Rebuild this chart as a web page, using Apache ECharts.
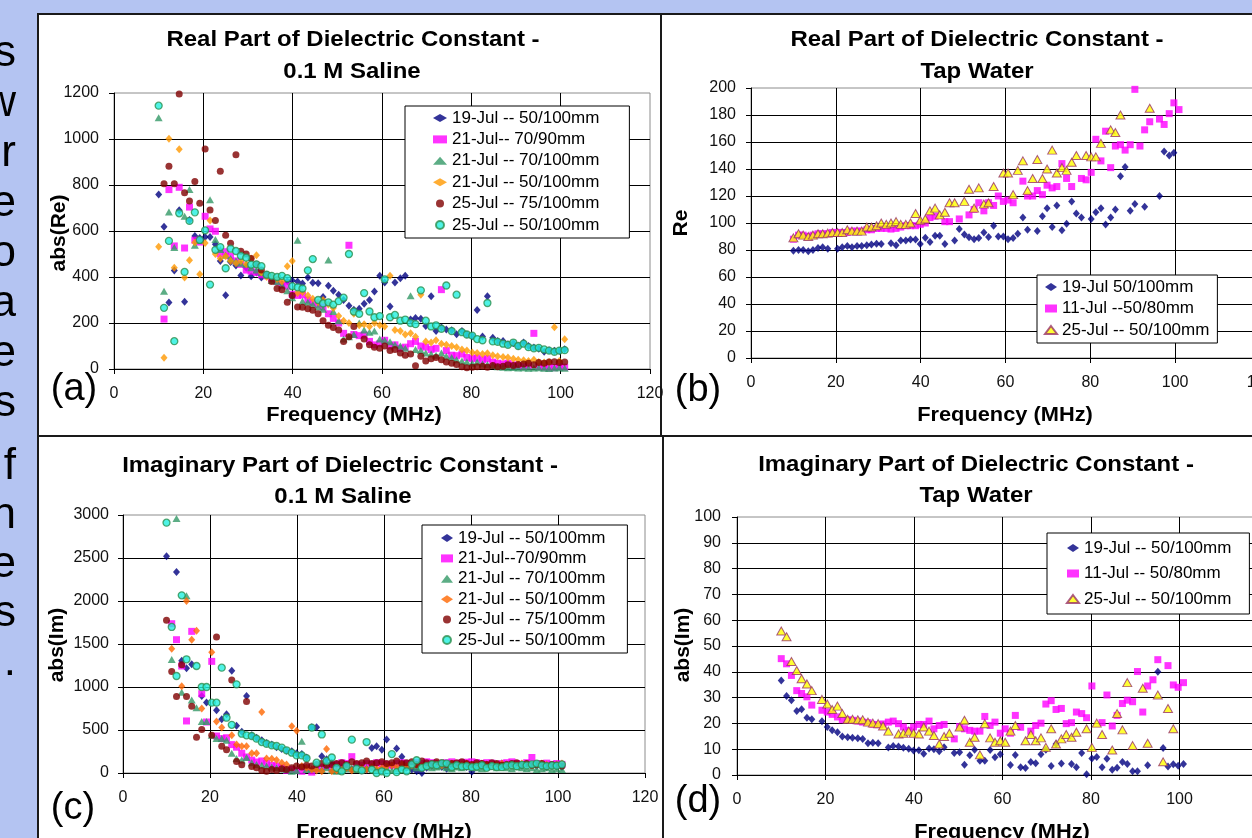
<!DOCTYPE html>
<html>
<head>
<meta charset="utf-8">
<script src="https://cdn.jsdelivr.net/npm/echarts@6/dist/echarts.min.js"></script>
<style>
  html, body { margin: 0; padding: 0; background: #b4c4f2; }
  #chart { width: 1252px; height: 838px; }
</style>
</head>
<body>
<div id="chart"></div>
<script>
// frequency grid (MHz) shared by every series
var freq = [
  10.0, 11.2, 12.3, 13.5, 14.6, 15.8, 16.9, 18.1, 19.2, 20.4,
  21.5, 22.7, 23.8, 25.0, 26.1, 27.3, 28.4, 29.6, 30.7, 31.9,
  33.0, 34.2, 35.3, 36.5, 37.6, 38.8, 39.9, 41.1, 42.2, 43.4,
  44.5, 45.7, 46.8, 48.0, 49.1, 50.3, 51.4, 52.6, 53.7, 54.9,
  56.0, 57.2, 58.3, 59.5, 60.6, 61.8, 62.9, 64.1, 65.2, 66.4,
  67.5, 68.7, 69.8, 71.0, 72.1, 73.3, 74.4, 75.6, 76.7, 77.9,
  79.0, 80.2, 81.3, 82.5, 83.6, 84.8, 85.9, 87.1, 88.2, 89.4,
  90.5, 91.7, 92.8, 94.0, 95.1, 96.3, 97.4, 98.6, 99.7, 100.9
];

var xTicks = [0, 20, 40, 60, 80, 100, 120];

// (a) real part, 0.1 M saline
var aLabels = ["19-Jul -- 50/100mm", "21-Jul-- 70/90mm", "21-Jul -- 70/100mm",
               "21-Jul -- 50/100mm", "25-Jul -- 75/100mm", "25-Jul -- 50/100mm"];
var aJul19 = [
  759, 618, 289, 428, 690, 292, 648, 578, 570, 574,
  574, 542, 470, 321, 465, 450, 406, 440, 403, 420,
  398, 410, 395, 388, 370, 382, 385, 380, 372, 398,
  375, 373, 313, 362, 340, 323, 300, 275, 258, 262,
  284, 300, 337, 405, 376, 272, 376, 395, 405, 215,
  222, 218, 187, 316, 165, 180, 172, 168, 151, 165,
  150, 144, 256, 141, 316, 136, 122, 122, 108, 112,
  100, 115, 100, 93, 88, 75, 82, 79, 79, 86];
var aJul21a = [
  null, 217, 780, 535, 790, 526, 704, 560, 552, 664,
  609, 599, 500, 510, 490, 470, 455, 430, 425, 420,
  410, 405, 395, 380, 365, 360, 325, 320, 322, 300,
  290, 282, 270, 240, 220, 200, 155, 538, 150, 145,
  148, 120, 105, 110, 125, 100, 105, 90, 95, 110,
  120, 100, 95, 85, 90, 345, 80, 60, 58, 65,
  50, 45, 48, 40, 45, 30, 25, 22, 25, 18,
  15, 12, 14, 155, 10, 8, 5, 6, 10, 8];
var aJul21b = [
  1092, 338, 683, 528, null, 664, 780, 538, 560, null,
  736, 563, 520, 495, 480, 470, 460, 455, 440, 430,
  420, 410, 385, 380, 365, 340, 310, 560, 295, 290,
  280, 270, 260, 474, 250, 210, 130, 140, 150, 200,
  170, 160, 165, 130, 125, 118, 105, 100, 90, 319,
  85, 80, 70, 65, 60, 70, 55, 50, 40, 35,
  30, 25, 30, 22, 20, 15, 10, 8, 5, 6,
  4, 5, 3, 4, 5, 3, 2, 4, 5, 3];
var aJul21c = [
  532, 49, 1001, 440, 955, 398, 473, 550, 412, 548,
  646, 500, 480, 490, 470, 460, 470, 455, 480, 495,
  420, 400, 405, 390, 380, 447, 470, 330, 335, 320,
  305, 290, 300, 280, 265, 230, 210, 200, 240, 190,
  195, 185, 200, 190, 185, 405, 170, 165, 150, 155,
  140, 323, 120, 115, 125, 110, 105, 100, 95, 85,
  80, 72, 70, 65, 68, 60, 55, 52, 50, 45,
  40, 38, 35, 40, 30, 28, 30, 182, 35, 129];
var aJul25a = [
  null, 805, 882, 805, 1196, 766, 730, 815, 721, 957,
  691, 646, 860, 581, 547, 931, 512, 500, 480, 455,
  430, 410, 380, 350, 345, 290, 320, 270, 268, 262,
  255, 240, 210, 190, 180, 170, 120, 140, 185, 100,
  130, 105, 95, 90, 100, 80, 85, 70, 60, 65,
  14, 55, 35, 45, 50, 40, 30, 25, 20, 10,
  5, 8, 10, 12, 8, 15, 10, 12, 18, 15,
  20, 22, 25, 18, 28, 25, 30, 32, 28, 30];
var aJul25b = [
  1145, 266, 557, 121, 677, 422, 644, 681, 561, 603,
  367, 518, 530, 438, 523, 513, 492, 484, 454, 455,
  447, 410, 405, 400, 405, 395, 360, 355, 350, 429,
  478, 300, 285, 290, 280, 295, 310, 500, 250, 240,
  330, 250, 225, 230, 390, 225, 235, 210, 215, 200,
  195, 342, 210, 185, 190, 175, 363, 165, 323, 160,
  150, 145, 130, 125, 287, 120, 118, 110, 105, 115,
  100, 110, 95, 90, 92, 85, 80, 75, 80, 82];

// (b) real part, tap water
var bLabels = ["19-Jul 50/100mm", "11-Jul --50/80mm", "25-Jul -- 50/100mm"];
var bJul19 = [
  79.5, 80, 80, 79, 80, 81.5, 82, 81, null, 81,
  82, 83, 82, 83, 83, 83.5, 84, 84.7, 84.4, null,
  85, 83.5, 87, 87, 87.7, 87.7, 84.4, 89, 86, 90.6,
  90.6, 84.4, null, 87, 95.6, 91.4, 89.4, 88, 88.9, 93,
  89.6, 98, 90, 90, 88, 88.9, 92, 104, 95, null,
  94, 105, 111, 97, 113, 94.6, 99.5, 116, 107, 104,
  null, 103, 108, 111, 98.8, 104, 110, 134.6, 141.5, 109,
  114, null, 112, null, null, 120, 153, 150, 152, null];
var bJul11 = [
  88, 91, 91, 90, 91, 92, 92, 92, 93, 93,
  93, 93, 94, 94, 94, 95, 95, 96, 96, 96,
  95.5, 96, 97, 98, 98, 98, 99, 100, 104, 105,
  null, 101, 101, null, 103, null, 106, 110, 115, 109,
  115, 113, 120, 116, 117, 115, null, 131, 120, 120,
  124, 121, 128, 126, 127, 144, 133, 127, null, 133,
  132, 137.5, 162, 146, 168, 141, 157, 158, 154, 158,
  199, 157, 169, 175, null, 177, 173, 181, 189, 184];
var bJul25 = [
  89, 92, 91, 90, 91, 92, 92, 92.5, 93, 93,
  93, 95, 94, 94, 94, 97, 97, 98, 100, 99,
  100, 101, 99, 99, 100, 107, 102, 103, 109, 111,
  106, 108, 115, 115, null, 116, 125, 111, 126, 114,
  115, 127, null, 137, 137, 121, 139, 146, 124, 133,
  147, 133, 140, 154, 137, 141, 139, 145, 150, null,
  150, 149, 149, 159, null, 169, 167, 180, null, null,
  null, null, null, 185, null, null, null, null, null, null];

// (c) imaginary part, 0.1 M saline
var cLabels = ["19-Jul -- 50/100mm", "21-Jul--70/90mm", "21-Jul -- 70/100mm",
               "21-Jul -- 50/100mm", "25-Jul -- 75/100mm", "25-Jul -- 50/100mm"];
var cJul19 = [
  2520, null, 2336, 1306, 1217, 1264, null, 895, 820, null,
  729, 624, 682, 1190, 550, 480, 895, 440, 410, 380,
  350, 330, 300, 280, 260, 252, 230, 221, 180, 531,
  531, 194, 160, 120, 100, 70, 60, 40, 50, 30,
  40, 290, 310, 270, 390, 80, 285, 190, 60, 40,
  20, 0, 60, 80, 90, 70, 50, 80, 90, 100,
  70, 15, 80, 90, 100, 85, 90, 110, 100, 95,
  90, 85, 100, 90, 80, 85, 70, 80, 75, 70];
var cJul21a = [
  null, 1736, 1550, 1244, 605, 1647, null, 922, 593, 1298,
  430, 400, 410, 330, 300, 230, 186, 150, 128, 140,
  110, 90, 80, 60, 31, 40, 30, 20, 60, 10,
  50, 70, 80, 60, 100, 120, 110, 190, 100, 90,
  110, 100, 120, 110, 100, 90, 110, 120, 110, 100,
  120, 110, 130, 120, 110, 100, 120, 130, 110, 120,
  125, 130, 120, 110, 120, 115, 100, 110, 120, 130,
  110, 100, 120, 180, 110, 100, 115, 100, 110, 100];
var cJul21b = [
  null, 1320, 2960, 940, 2060, 850, 760, 600, 600, 440,
  400, 400, 380, 230, 170, 150, 180, 120, 100, 90,
  80, 70, 60, 50, 40, 20, 30, 370, 40, 50,
  60, 40, 60, 30, 20, 40, 50, 60, 40, 50,
  60, 70, 40, 50, 60, 30, 50, 60, 70, 80,
  60, 70, 80, 60, 70, 80, 60, 50, 70, 60,
  80, 70, 60, 50, 70, 80, 60, 70, 60, 50,
  70, 60, 50, 60, 40, 50, 60, 40, 50, 40];
var cJul21c = [
  null, 1445, null, 1010, 2000, 1550, 1655, 750, null, 1405,
  600, 530, null, 440, 330, 310, 310, 230, 230, 710,
  170, 165, 150, 120, 100, 545, 490, 80, 60, 40,
  30, 20, 280, 20, 30, 40, 60, 30, 50, 60,
  40, 70, 50, 60, 80, 90, 70, 100, 80, 90,
  100, 80, 90, 100, 110, 90, 100, 110, 90, 100,
  110, 90, 100, 110, 100, 90, 100, 110, 100, 90,
  100, 110, 100, 90, 100, 110, 100, 90, 100, 110];
var cJul25a = [
  1775, 1180, 890, 1260, 890, 775, 415, 505, null, 440,
  1580, 310, 270, 1080, 135, 95, 830, 75, 60, 30,
  20, 40, 30, 50, 40, 60, 80, 70, 90, 80,
  100, 110, 90, 100, 110, 120, 100, 130, 110, 120,
  140, 110, 120, 130, 110, 120, 140, 110, 120, 130,
  100, 140, 120, 110, 130, 120, 100, 110, 120, 130,
  110, 100, 120, 110, 100, 120, 110, 90, 100, 110,
  120, 100, 110, 90, 100, 110, 80, 100, 90, 80];
var cJul25b = [
  2911, 1698, 1128, 2066, 1322, null, 1244, 1000, 1000, 818,
  818, 1225, 643, 560, 1031, 457, 438, 430, 399, 360,
  340, 322, 314, 295, 264, 236, 205, 205, 172, 528,
  120, 448, 140, 180, 60, 20, 80, 388, 50, 30,
  360, 40, 0, 20, 0, 220, 10, 40, 20, 100,
  148, 60, 80, 100, 90, 112, 110, 70, 90, 75,
  80, 68, 75, 90, 60, 80, 70, 68, 85, 90,
  80, 95, 88, 100, 110, 88, 80, 88, 85, 100];

// (d) imaginary part, tap water
var dLabels = ["19-Jul -- 50/100mm", "11-Jul -- 50/80mm", "25-Jul -- 50/100mm"];
var dJul19 = [
  36.6, 30.6, 29, 24.8, 25.5, 22.2, 21.6, null, 20.8, 18.6,
  17.3, 16.6, 14.9, 14.6, 14.4, 14.2, 14, 12.3, 12.5, 12.3,
  null, 10.7, 11.2, 11, 10.6, 10.2, 9.5, 9.6, 8.2, 10.3,
  10, 9.2, 10.8, null, 8.5, 8.8, 4, 7.7, 9.8, 5.5,
  5.5, 9.7, 6.9, 8, null, 3.9, 7.8, 3, 2.7, 5,
  4.6, 8, 9.8, 3.5, 12, 4.5, null, 4.3, 3, 8.5,
  0.3, 6.4, 7, 3, 6.3, 2, 2.8, 5, 4.3, 1.5,
  1.5, null, 3.8, null, 40, 10.5, 3.3, 4.2, 3.6, 4.3];
var dJul11 = [
  45.1, 43.1, 38.6, 32.7, 31.6, 30.3, 27.1, null, 25.1, 24.4,
  23.5, 22.5, 21.4, 21.4, 21.2, 20.9, 20.5, 20.3, 19.6, 19.5,
  19.8, 20.5, 20.9, 19.9, 18.6, 17.3, 18.6, 19.6, 19.6, 20.9,
  17.9, 19.2, 19.6, null, 14, 18.8, 17.9, 17.3, 17, 17,
  22.7, 19.2, 20.5, 16.2, 17.9, 16.2, 23.1, 18.5, null, 17,
  19.2, 20.1, 27.5, 28.8, 25.4, 25.8, 19.9, 20.3, 24.4, 23.8,
  22.2, 34.5, null, 20.3, 31, 19, 23.1, 27.7, 29, 28.4,
  40.1, 24.4, 34.5, 36.9, 44.7, null, 42.4, 34.9, 34, 35.8];
var dJul25 = [
  55.8, 53.6, 44, 40.5, 37.3, 35.3, 32.7, null, 29.3, 27.5,
  25.4, 26.7, 23.8, 21.6, 21.6, 21.4, 21.4, 20.5, 20.1, 19.9,
  19, 17, null, 15.9, 16.2, 17, 16.2, 15.9, 18.6, 17,
  15.3, 12, 14.9, 16.2, null, 18.6, 21.2, 12.7, 14.6, 7.8,
  19.9, 14.4, 12.7, 13.3, 12.7, 17, 19.2, null, 13.3, 15.7,
  13.3, 14.4, 10.7, 17.9, 12, 14, 15.7, 14.6, 16.6, null,
  17.9, 10.7, 20.1, 15.7, null, 9.7, 23.8, 17.5, 35.8, 11.4,
  null, 33.6, 12.3, null, 31, 5.1, 25.8, 17.9, null, null];

var FONT = '"Liberation Sans", Arial, sans-serif';

// marker styles
var mk = {
  navy:    { symbol: 'diamond', symbolSize: [7, 8], itemStyle: { color: '#000080' } },
  magenta: { symbol: 'rect', symbolSize: 7, itemStyle: { color: '#ff00ff' } },
  green:   { symbol: 'triangle', symbolSize: [8, 7], itemStyle: { color: '#339966' } },
  orange:  { symbol: 'diamond', symbolSize: [7, 8], itemStyle: { color: '#ff9900' } },
  orange2: { symbol: 'diamond', symbolSize: [7, 8], itemStyle: { color: '#ff6600' } },
  maroon:  { symbol: 'circle', symbolSize: 7, itemStyle: { color: '#800000' } },
  teal:    { symbol: 'circle', symbolSize: 7, itemStyle: { color: '#22f0e0', borderColor: '#2f8f4f', borderWidth: 1.3 } },
  yellow:  { symbol: 'triangle', symbolSize: [9, 8], itemStyle: { color: '#ffff00', borderColor: '#993366', borderWidth: 1 } }
};

function pts(vals) {
  var out = [];
  for (var i = 0; i < freq.length; i++) {
    if (vals[i] !== null && vals[i] !== undefined) out.push([freq[i], vals[i]]);
  }
  return out;
}

var legendText = {};
var series = [];
function addSeries(id, label, vals, style, idx) {
  legendText[id] = label;
  series.push({
    name: id,
    type: 'scatter',
    xAxisIndex: idx,
    yAxisIndex: idx,
    symbol: style.symbol,
    symbolSize: style.symbolSize,
    itemStyle: style.itemStyle,
    data: pts(vals),
    animation: false
  });
}

addSeries('a0', aLabels[0], aJul19, mk.navy, 0);
addSeries('a1', aLabels[1], aJul21a, mk.magenta, 0);
addSeries('a2', aLabels[2], aJul21b, mk.green, 0);
addSeries('a3', aLabels[3], aJul21c, mk.orange, 0);
addSeries('a4', aLabels[4], aJul25a, mk.maroon, 0);
addSeries('a5', aLabels[5], aJul25b, mk.teal, 0);

addSeries('b0', bLabels[0], bJul19, mk.navy, 1);
addSeries('b1', bLabels[1], bJul11, mk.magenta, 1);
addSeries('b2', bLabels[2], bJul25, mk.yellow, 1);

addSeries('c0', cLabels[0], cJul19, mk.navy, 2);
addSeries('c1', cLabels[1], cJul21a, mk.magenta, 2);
addSeries('c2', cLabels[2], cJul21b, mk.green, 2);
addSeries('c3', cLabels[3], cJul21c, mk.orange2, 2);
addSeries('c4', cLabels[4], cJul25a, mk.maroon, 2);
addSeries('c5', cLabels[5], cJul25b, mk.teal, 2);

addSeries('d0', dLabels[0], dJul19, mk.navy, 3);
addSeries('d1', dLabels[1], dJul11, mk.magenta, 3);
addSeries('d2', dLabels[2], dJul25, mk.yellow, 3);

var grids = [
  { left: 114, top: 93, width: 536, height: 276 },
  { left: 751, top: 88, width: 509, height: 270 },
  { left: 123, top: 515, width: 522, height: 258 },
  { left: 737, top: 517, width: 531, height: 258 }
];
grids.forEach(function (g) {
  g.show = true;
  g.borderColor = '#8c8c8c';
  g.borderWidth = 1;
  g.containLabel = false;
  g.outerBoundsMode = 'none';   // let panels (b) and (d) run past the right edge
});

function plain(v) { return String(v); }

function xAx(i) {
  return {
    gridIndex: i, type: 'value', min: xTicks[0], max: xTicks[xTicks.length - 1], interval: 20,
    axisLine: { show: true, onZero: false, lineStyle: { color: '#000', width: 1 } },
    axisTick: { show: true, inside: false, length: 5, lineStyle: { color: '#000' } },
    axisLabel: { margin: 17, fontSize: 16, color: '#111', fontFamily: FONT, formatter: plain },
    splitLine: { show: true, showMinLine: false, showMaxLine: false, lineStyle: { color: '#000', width: 1 } }
  };
}
function yAx(i, max, step, margin) {
  return {
    gridIndex: i, type: 'value', min: 0, max: max, interval: step,
    axisLine: { show: true, onZero: false, lineStyle: { color: '#000', width: 1 } },
    axisTick: { show: true, inside: false, length: 5, lineStyle: { color: '#000' } },
    axisLabel: { margin: margin, fontSize: 16, color: '#111', fontFamily: FONT, formatter: plain },
    splitLine: { show: true, showMinLine: false, showMaxLine: false, lineStyle: { color: '#000', width: 1 } }
  };
}

function legend(prefix, n, left, top, padding, gap, iw) {
  var data = [];
  for (var i = 0; i < n; i++) data.push(prefix + i);
  return {
    orient: 'vertical', left: left, top: top, padding: padding, itemGap: gap,
    itemWidth: iw, itemHeight: 8, selectedMode: false,
    backgroundColor: '#fff', borderColor: '#000', borderWidth: 1,
    textStyle: { fontSize: 17, lineHeight: 17, color: '#000', fontFamily: FONT },
    formatter: function (name) { return legendText[name]; },
    data: data
  };
}

function txt(text, x, y, size, bold, opts) {
  opts = opts || {};
  return {
    type: 'text', x: x, y: y, z: 100,
    rotation: opts.rotation || 0,
    scaleX: opts.scaleX || 1,
    style: {
      text: text, fill: '#000',
      fontSize: size, fontWeight: bold ? 'bold' : 'normal', fontFamily: FONT,
      textAlign: opts.align || 'center', textVerticalAlign: 'middle'
    }
  };
}

var panelStroke = { stroke: '#1a1a1a', lineWidth: 2, fill: '#fff' };
var graphic = [
  { type: 'rect', z: -10, shape: { x: 38, y: 14, width: 623, height: 422 }, style: panelStroke },
  { type: 'rect', z: -10, shape: { x: 661, y: 14, width: 600, height: 422 }, style: panelStroke },
  { type: 'rect', z: -10, shape: { x: 38, y: 436, width: 625, height: 410 }, style: panelStroke },
  { type: 'rect', z: -10, shape: { x: 663, y: 436, width: 600, height: 410 }, style: panelStroke }
];

// letters of the slide text that peek out at the left edge
var sideLetters = ['s', 'w', 'r', 'e', 'o', 'a', 'e', 's', 'f', 'n', 'e', 's', '.'];
var sideY = [54, 104, 154, 204, 254, 304, 354, 404, 467, 516, 565, 614, 663];
sideLetters.forEach(function (ch, i) {
  graphic.push(txt(ch, 16, sideY[i], 44, false, { align: 'right' }));
});

var stretch = { scaleX: 1.09 };
graphic.push(
  txt('Real Part of Dielectric Constant -', 353, 40, 22, true, stretch),
  txt('0.1 M Saline', 352, 72, 22, true, stretch),
  txt('Real Part of Dielectric Constant -', 977, 40, 22, true, stretch),
  txt('Tap Water', 977, 72, 22, true, stretch),
  txt('Imaginary Part of Dielectric Constant -', 340, 466, 22, true, stretch),
  txt('0.1 M Saline', 343, 497, 22, true, stretch),
  txt('Imaginary Part of Dielectric Constant -', 976, 465, 22, true, stretch),
  txt('Tap Water', 976, 496, 22, true, stretch),

  txt('Frequency (MHz)', 354, 415, 20, true, stretch),
  txt('Frequency (MHz)', 1005, 415, 20, true, stretch),
  txt('Frequency (MHz)', 384, 832, 20, true, stretch),
  txt('Frequency (MHz)', 1002, 832, 20, true, stretch),

  txt('abs(Re)', 59, 233, 21, true, { rotation: Math.PI / 2 }),
  txt('Re', 681, 223, 21, true, { rotation: Math.PI / 2 }),
  txt('abs(Im)', 57, 645, 21, true, { rotation: Math.PI / 2 }),
  txt('abs(Im)', 683, 645, 21, true, { rotation: Math.PI / 2 }),

  txt('(a)', 74, 390, 38, false),
  txt('(b)', 698, 391, 38, false),
  txt('(c)', 73, 809, 38, false),
  txt('(d)', 698, 802, 38, false)
);

var chart = echarts.init(document.getElementById('chart'), null, { renderer: 'canvas' });
chart.setOption({
  backgroundColor: '#b4c4f2',
  animation: false,
  grid: grids,
  xAxis: [xAx(0), xAx(1), xAx(2), xAx(3)],
  yAxis: [yAx(0, 1200, 200, 15), yAx(1, 200, 20, 15), yAx(2, 3000, 500, 14), yAx(3, 100, 10, 16)],
  legend: [
    legend('a', 6, 405, 106, [3.5, 30, 4.5, 28], 4.4, 14),
    legend('b', 3, 1037, 275, [3.5, 8, 4.5, 7], 4.5, 12),
    legend('c', 6, 422, 525, [4.5, 22, 4.5, 19], 3.4, 12),
    legend('d', 3, 1047, 533, [6.5, 18, 6.5, 19], 8.5, 12)
  ],
  graphic: graphic,
  series: series
});
</script>
</body>
</html>
